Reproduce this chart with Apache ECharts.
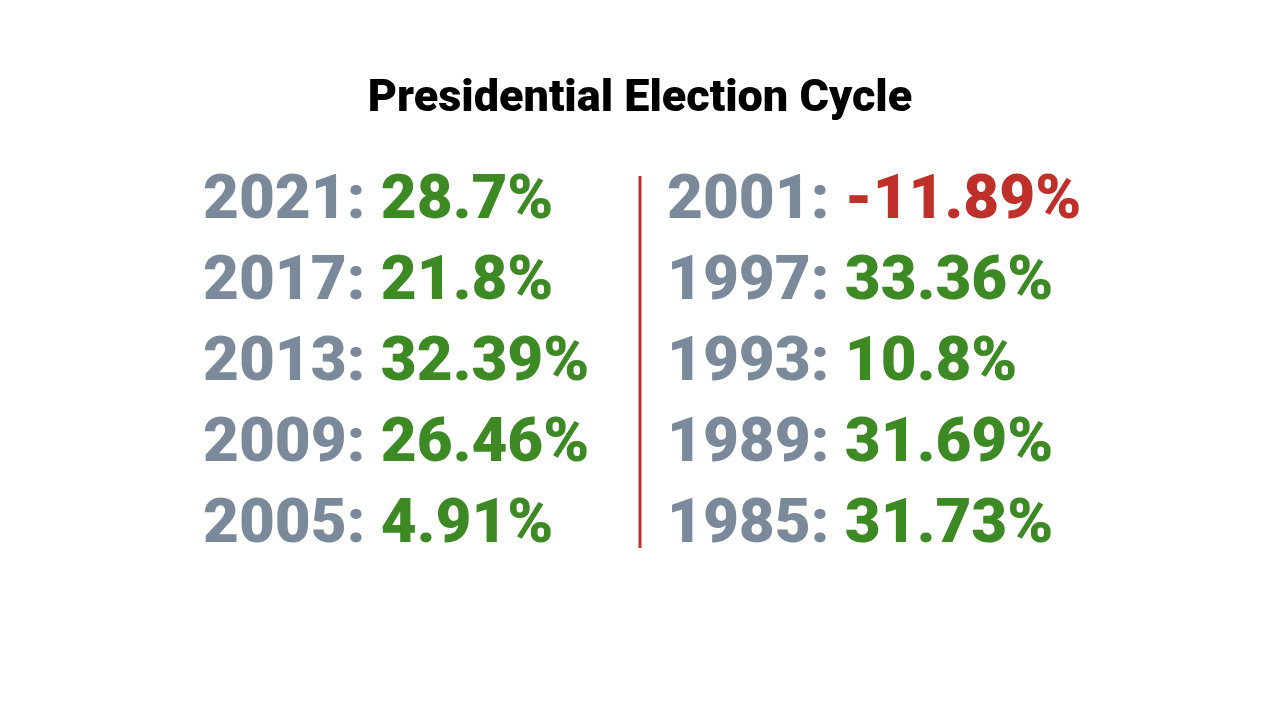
<!DOCTYPE html>
<html>
<head>
<meta charset="utf-8">
<script src="https://cdn.jsdelivr.net/npm/echarts@6/dist/echarts.min.js"></script>
<style>
html,body{margin:0;padding:0;background:#fff;}
#main{width:1280px;height:720px;}
</style>
</head>
<body>
<div id="main"></div>
<script>
// election cycle years and market returns (%)
var leftYears = ['2021', '2017', '2013', '2009', '2005'];
var leftReturns = ['28.7', '21.8', '32.39', '26.46', '4.91'];
var rightYears = ['2001', '1997', '1993', '1989', '1985'];
var rightReturns = ['-11.89', '33.36', '10.8', '31.69', '31.73'];

var FONT = 'Roboto';
var myChart = echarts.init(document.getElementById('main'));

function buildData(col, years, rets) {
    var list = [];
    for (var i = 0; i < years.length; i++) {
        list.push({
            value: [col, i],
            year: years[i],
            ret: rets[i]
        });
    }
    return list;
}

var data = buildData(0, leftYears, leftReturns).concat(buildData(1, rightYears, rightReturns));

var option = {
    backgroundColor: '#ffffff',
    title: {
        text: 'Presidential Election Cycle',
        left: 'center',
        top: 72,
        textStyle: {
            fontFamily: FONT,
            fontWeight: 900,
            fontSize: 45,
            color: '#000000'
        }
    },
    grid: {left: 203, width: 464, top: 202, height: 324},
    xAxis: {type: 'value', min: 0, max: 1, show: false},
    yAxis: {type: 'value', min: 0, max: 4, inverse: true, show: false},
    series: [{
        type: 'scatter',
        symbolSize: 0,
        data: data,
        silent: true,
        itemStyle: {opacity: 1},
        label: {
            show: true,
            position: 'right',
            distance: 0,
            formatter: function (p) {
                var neg = parseFloat(p.data.ret) < 0;
                return '{y|' + p.data.year + ': }{' + (neg ? 'r' : 'g') + '|' + p.data.ret + '%}';
            },
            rich: {
                y: {fontFamily: FONT, fontWeight: 900, fontSize: 62, color: '#7b8a9b'},
                g: {fontFamily: FONT, fontWeight: 900, fontSize: 62, color: '#3d8a24'},
                r: {fontFamily: FONT, fontWeight: 900, fontSize: 62, color: '#c0302a'}
            }
        }
    }],
    graphic: [{
        type: 'line',
        shape: {x1: 640, y1: 176, x2: 640, y2: 548},
        style: {stroke: '#c0302a', lineWidth: 3}
    }]
};

myChart.setOption(option);
</script>
</body>
</html>
